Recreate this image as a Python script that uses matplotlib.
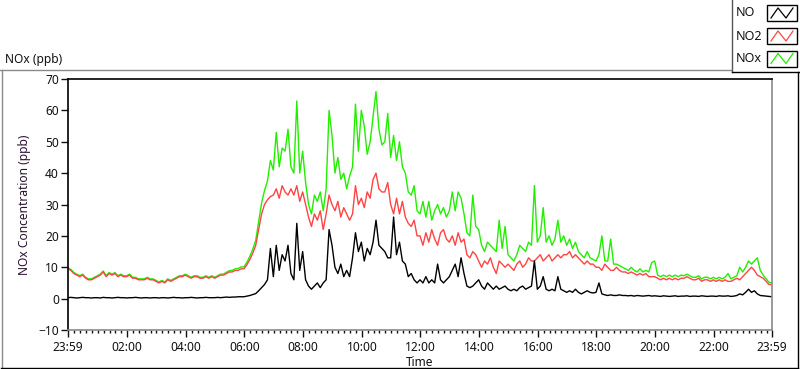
import matplotlib
matplotlib.use("Agg")
import matplotlib.pyplot as plt
from matplotlib.lines import Line2D
from matplotlib.patches import Rectangle

plt.rcParams['font.family'] = ['Noto Sans', 'DejaVu Sans']

# ---- data (6-minute samples, hours since midnight, starting 23:59) ----
t_start = -1 / 60
t_step = 0.1

no2 = [
    9.5, 9, 8, 7.5, 7, 7.5, 6.5, 6, 6, 6.5,
    7, 7.5, 8.5, 7, 8, 7.5, 8, 7, 7.5, 7,
    7, 7.5, 6.5, 6.5, 6, 6, 6, 6.5, 6, 6,
    5.5, 5, 5.5, 5, 6, 5.5, 6, 6.5, 7, 7,
    7.5, 7, 6.5, 7, 7, 6.5, 6.5, 7, 6.5, 7,
    6.5, 7, 7.5, 7.5, 8, 8.5, 8.5, 9, 9, 9.5,
    9.5, 10.8, 12.5, 14.5, 17, 22, 27, 30, 31.5, 32.5,
    33, 35, 32, 36, 34, 33, 35, 33, 36, 31,
    34, 30, 26, 23, 27, 25, 28, 22, 27, 33,
    30, 28, 31, 26, 29, 27, 25, 27, 36, 30,
    32, 29, 34, 32, 38, 40, 35, 34, 34, 37,
    30, 27, 32, 27, 31, 26, 24, 23, 25, 20,
    20, 17, 21, 18, 22, 19, 17, 21, 22, 19,
    18, 20, 17, 21, 18, 19, 14, 13, 15, 14,
    12, 10, 12, 11, 13, 10, 8, 12, 11, 10,
    11, 10, 9, 11, 12, 10, 11, 13, 12, 12,
    13, 14, 12, 13, 14, 12, 13, 14, 13, 14,
    14, 15, 13, 14, 13, 12, 11, 12, 11, 11,
    10, 10, 9, 11, 10, 9, 9, 10, 9, 8.5,
    8.5, 8, 8.5, 8, 7.5, 8, 7.5, 8, 7, 7,
    7, 6.5, 6, 6.5, 6, 6.5, 6, 6.5, 6, 6.5,
    6.5, 7, 6.5, 6, 6, 6.5, 5.5, 6, 6, 5.5,
    6, 5.5, 6, 5.5, 6, 5.5, 5.5, 6, 6.5, 6,
    7, 8, 9, 10, 9, 7.5, 7, 6.5, 5.5, 4.5, 4.5,
]

no = [
    0.3, 0.4, 0.3, 0.2, 0.3, 0.4, 0.3, 0.3, 0.2, 0.3,
    0.3, 0.2, 0.4, 0.3, 0.3, 0.2, 0.3, 0.4, 0.3, 0.3,
    0.2, 0.3, 0.3, 0.4, 0.3, 0.2, 0.3, 0.3, 0.2, 0.3,
    0.3, 0.2, 0.3, 0.3, 0.2, 0.3, 0.4, 0.3, 0.3, 0.2,
    0.3, 0.3, 0.4, 0.3, 0.2, 0.3, 0.3, 0.4, 0.3, 0.3,
    0.3, 0.4, 0.3, 0.4, 0.5, 0.4, 0.5, 0.5, 0.6, 0.6,
    0.6, 0.8, 1.0, 1.3, 1.6, 2.5, 3.5, 4.5, 6, 16,
    7, 17, 9, 14, 12, 17, 8, 6, 24, 9,
    15, 6, 4, 3, 4, 5, 3.5, 5, 6, 22,
    17, 10, 8, 11, 7, 9, 7, 13, 21, 15,
    18, 12, 16, 14, 18, 25, 17, 16, 15, 13,
    13, 26, 14, 18, 12, 11, 7, 8, 6, 5,
    6, 5, 7, 5, 6, 5, 11, 6, 5, 6,
    7, 9, 11, 7, 13, 8, 4, 3.5, 4, 5,
    6, 4, 3, 5, 4, 3, 4, 3, 3.5, 4,
    3, 2.5, 3, 2.5, 3.5, 4, 3, 3.5, 4, 12,
    3, 4, 7, 3, 2.5, 3, 2.5, 7, 3, 2.5,
    2, 2.5, 2, 3, 2, 1.5, 2, 2.5, 2, 1.8,
    2, 5, 1.5, 1.2, 1.0, 1.2, 1.0, 1.0, 1.2, 1.0,
    1.0, 0.9, 1.0, 0.8, 1.0, 0.9, 0.8, 0.9, 1.0, 0.8,
    0.9, 0.8, 0.7, 0.9, 0.8, 0.7, 0.8, 0.9, 0.7, 0.8,
    0.8, 0.9, 0.7, 0.8, 0.8, 0.7, 0.9, 0.8, 0.7, 0.8,
    0.8, 0.7, 0.9, 0.8, 0.8, 0.9, 0.7, 0.8, 1.0, 1.5,
    1.2, 2.0, 3.0, 2.0, 2.5, 1.5, 1.0, 0.9, 0.8, 0.7, 0.6,
]

nox = [
    9.8, 9.3, 8.3, 7.8, 7.3, 7.8, 6.8, 6.3, 6.3, 6.8,
    7.3, 7.8, 8.8, 7.3, 8.3, 7.8, 8.3, 7.3, 7.8, 7.3,
    7.3, 7.8, 6.8, 6.8, 6.3, 6.3, 6.3, 6.8, 6.3, 6.3,
    5.8, 5.3, 5.8, 5.3, 6.3, 5.8, 6.3, 6.8, 7.3, 7.3,
    7.8, 7.3, 6.8, 7.3, 7.3, 6.8, 6.8, 7.3, 6.8, 7.3,
    6.8, 7.3, 7.8, 7.8, 8.4, 8.9, 9.0, 9.5, 9.6, 10.1,
    10.1, 11.6, 13.5, 15.8, 18.6, 24.5, 30.5, 34.5, 37.5, 44,
    41, 53, 42, 48, 47, 54, 42, 40, 63, 40,
    47, 37, 30, 27, 33, 31, 34, 28, 35, 60,
    52, 40, 45, 38, 40, 35, 39, 42, 62, 47,
    60, 55, 46, 50, 58, 66, 54, 49, 50, 59,
    45, 52, 44, 50, 42, 40, 34, 33, 36, 28,
    27, 31, 26, 31, 25, 28, 30, 27, 29, 26,
    28, 34, 28, 34, 32, 27, 21, 20, 33, 23,
    22, 17, 15, 18, 17, 16, 15, 25, 16, 23,
    14, 13, 12, 14, 17, 16, 15, 18, 17, 36,
    18, 20, 29, 18, 20, 17, 19, 25, 18, 20,
    17, 19, 16, 18, 15, 14, 13, 15, 13, 12.5,
    12, 14, 20, 12, 12, 19, 11, 11, 10.5, 10,
    9.5, 9, 10, 9, 8.5, 9.5, 8.5, 9, 8.5, 11.5,
    12, 7.5, 7, 7.5, 7, 7.5, 7, 7.5, 7, 7.5,
    7.3, 7.8, 7.3, 6.8, 6.8, 7.3, 6.3, 6.8, 6.8, 6.3,
    6.8, 6.3, 6.8, 6.3, 6.8, 8, 6.3, 6.8, 7.3, 10,
    8.5, 10, 12, 11, 12, 13, 9, 7.5, 6.3, 5.2, 5.0,
]

t = [t_start + t_step * i for i in range(len(no2))]

major_ticks = [t_start, 2, 4, 6, 8, 10, 12, 14, 16, 18, 20, 22, 24 + t_start]
major_labels = ["23:59", "02:00", "04:00", "06:00", "08:00", "10:00", "12:00",
                "14:00", "16:00", "18:00", "20:00", "22:00", "23:59"]
y_ticks = [-10, 0, 10, 20, 30, 40, 50, 60, 70]

series_names = ["NO", "NO2", "NOx"]
series_colors = ["#000000", "#ff4444", "#22ee00"]

FS = 8.6

# ---- figure ----
W, H = 800, 369
fig = plt.figure(figsize=(W / 100, H / 100), dpi=100)
fig.patch.set_facecolor("white")


def fx(px):
    return px / W


def fy(py):
    return 1 - py / H


ax = fig.add_axes([fx(68), fy(330), fx(772) - fx(68), fy(79) - fy(330)])
ax.plot(t, nox, color=series_colors[2], lw=1.0)
ax.plot(t, no2, color=series_colors[1], lw=1.0)
ax.plot(t, no, color=series_colors[0], lw=1.0)

ax.set_xlim(t_start, 24 + t_start)
ax.set_ylim(-10, 70)
ax.set_xticks(major_ticks)
ax.set_xticklabels(major_labels)
minor = [0.2 * k for k in range(1, 120) if k % 10 != 0]
ax.set_xticks(minor, minor=True)
ax.set_yticks(y_ticks)
ax.tick_params(axis="x", which="major", length=5, width=1, pad=3, labelsize=FS, colors="#111111")
ax.tick_params(axis="x", which="minor", length=2.5, width=1, colors="#111111")
ax.tick_params(axis="y", which="major", length=5, width=1, pad=1.5, labelsize=FS, colors="#111111")

for side in ["left", "top"]:
    ax.spines[side].set_color("black")
    ax.spines[side].set_linewidth(1.2)
for side in ["right", "bottom"]:
    ax.spines[side].set_color("#8a8a8a")
    ax.spines[side].set_linewidth(1.2)

ax.set_xlabel("Time", fontsize=FS, labelpad=1, color="#111111")
ax.set_ylabel("NOx Concentration (ppb)", fontsize=FS, labelpad=5, color="#2a1030")

# title
fig.text(fx(5), fy(59), "NOx (ppb)", fontsize=FS, va="center", ha="left", color="#111111")

# outer frame lines
fig.add_artist(Line2D([fx(0), fx(731)], [fy(69.5), fy(69.5)], color="#8a8a8a", lw=1))
fig.add_artist(Line2D([fx(1.5), fx(1.5)], [fy(69.5), fy(367)], color="#8a8a8a", lw=1))
fig.add_artist(Line2D([fx(1), fx(797.5)], [fy(367.5), fy(367.5)], color="black", lw=1))
fig.add_artist(Line2D([fx(797.5), fx(797.5)], [fy(72), fy(367.5)], color="black", lw=1))

# legend box
fig.add_artist(Line2D([fx(731.5), fx(731.5)], [fy(0), fy(72)], color="#555555", lw=1))
fig.add_artist(Line2D([fx(731.5), fx(800)], [fy(72), fy(72)], color="black", lw=1))
rows_y = [13, 36, 58.5]
for name, col, yc in zip(series_names, series_colors, rows_y):
    fig.text(fx(736), fy(yc), name, fontsize=FS + 0.4, va="center", ha="left", color="#111111")
    x0, x1 = 767, 797
    y0, y1 = yc - 8, yc + 8
    fig.add_artist(Rectangle((fx(x0), fy(y1)), fx(x1) - fx(x0), fy(y0) - fy(y1),
                             transform=fig.transFigure, fill=False, ec="black", lw=1))
    zx = [x0 + 4, x0 + 11, x0 + 19, x0 + 26]
    zy = [y1 - 3, y0 + 3, y1 - 3, y0 + 3]
    fig.add_artist(Line2D([fx(v) for v in zx], [fy(v) for v in zy], color=col, lw=0.9))

fig.savefig("out.png", dpi=100)
